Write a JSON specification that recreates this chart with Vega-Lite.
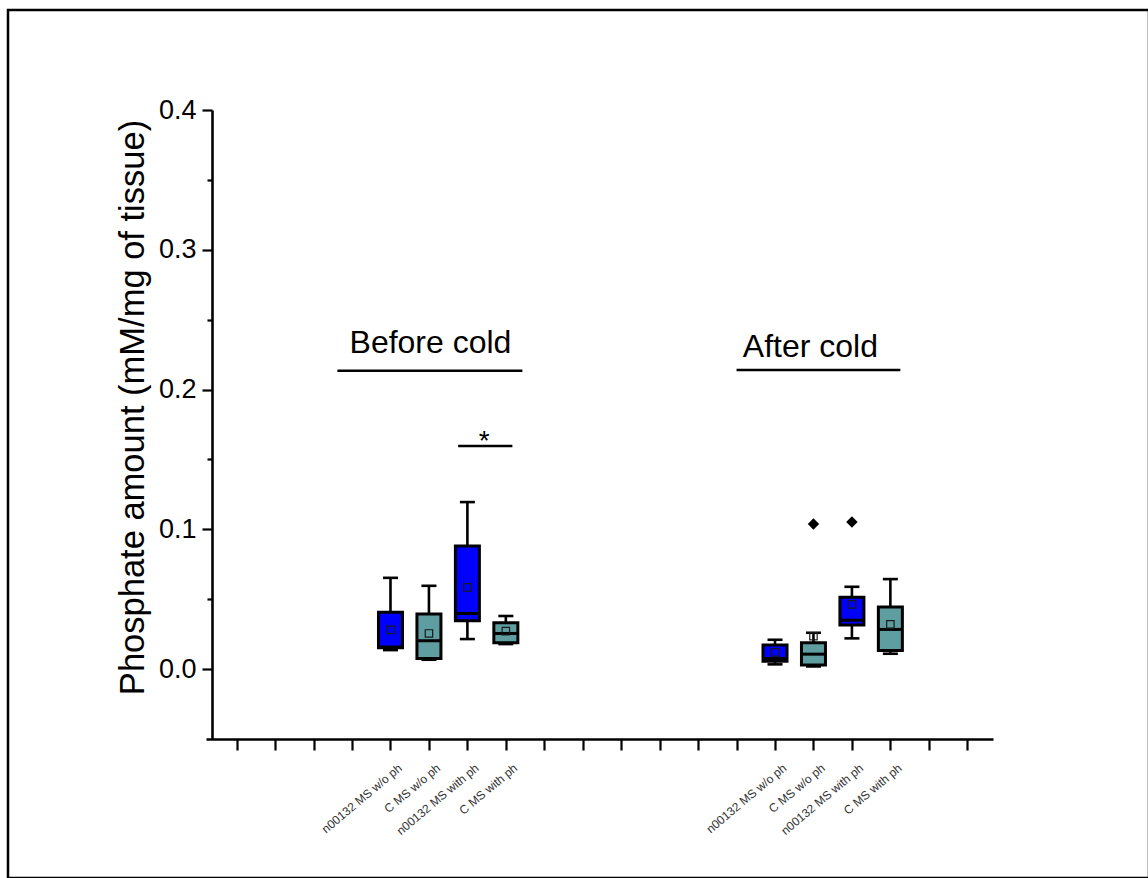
{
  "$schema": "https://vega.github.io/schema/vega-lite/v6.json",
  "width": 1141,
  "height": 868,
  "autosize": {"type": "none"},
  "padding": {"left": 8, "top": 10, "right": 0, "bottom": 0},
  "background": "white",
  "config": {
    "font": "Liberation Sans",
    "view": {"stroke": "black", "strokeWidth": 2.5},
    "axis": {"grid": false, "domainColor": "black", "tickColor": "black", "labelColor": "black", "titleColor": "black"}
  },
  "datasets": {
    "boxes": [
      {"pos": 5, "group": "n00132 MS w/o ph", "period": "Before cold", "type": "n00132 MS", "lower": 0.0136, "q1": 0.0153, "median": 0.0158, "q3": 0.0406, "upper": 0.0653, "mean": 0.0281},
      {"pos": 6, "group": "C MS w/o ph", "period": "Before cold", "type": "C MS", "lower": 0.0067, "q1": 0.0076, "median": 0.0203, "q3": 0.0394, "upper": 0.0596, "mean": 0.0255},
      {"pos": 7, "group": "n00132 MS with ph", "period": "Before cold", "type": "n00132 MS", "lower": 0.0215, "q1": 0.0346, "median": 0.0398, "q3": 0.088, "upper": 0.1195, "mean": 0.0585},
      {"pos": 8, "group": "C MS with ph", "period": "Before cold", "type": "C MS", "lower": 0.0179, "q1": 0.0188, "median": 0.0255, "q3": 0.0332, "upper": 0.038, "mean": 0.0272},
      {"pos": 15, "group": "n00132 MS w/o ph", "period": "After cold", "type": "n00132 MS", "lower": 0.0034, "q1": 0.0057, "median": 0.0076, "q3": 0.0172, "upper": 0.021, "mean": 0.012},
      {"pos": 16, "group": "C MS w/o ph", "period": "After cold", "type": "C MS", "lower": 0.0019, "q1": 0.0029, "median": 0.0107, "q3": 0.0188, "upper": 0.026, "mean": 0.0235},
      {"pos": 17, "group": "n00132 MS with ph", "period": "After cold", "type": "n00132 MS", "lower": 0.022, "q1": 0.0315, "median": 0.035, "q3": 0.0515, "upper": 0.0589, "mean": 0.0463},
      {"pos": 18, "group": "C MS with ph", "period": "After cold", "type": "C MS", "lower": 0.011, "q1": 0.0134, "median": 0.0284, "q3": 0.0444, "upper": 0.0644, "mean": 0.032}
    ],
    "outliers": [
      {"pos": 16, "value": 0.1038},
      {"pos": 17, "value": 0.1052}
    ],
    "lines": [
      {"label": "Before cold", "x1": 3.62, "x2": 8.43, "y": 0.2135},
      {"label": "After cold", "x1": 14.0, "x2": 18.26, "y": 0.214},
      {"label": "significance", "x1": 6.76, "x2": 8.17, "y": 0.1596}
    ],
    "texts": [
      {"text": "Before cold", "x": 6.04, "y": 0.2262, "size": 32},
      {"text": "After cold", "x": 15.92, "y": 0.2236, "size": 32},
      {"text": "*", "x": 7.44, "y": 0.1567, "size": 28}
    ]
  },
  "resolve": {"axis": {"x": "independent", "y": "independent"}},
  "layer": [
    {
      "data": {"name": "boxes"},
      "mark": {"type": "rule", "color": "black", "strokeWidth": 2.6},
      "encoding": {
        "x": {
          "field": "pos", "type": "quantitative",
          "scale": {"domain": [0.3324, 20.539], "range": [198, 985], "nice": false, "zero": false},
          "axis": {
            "orient": "bottom", "offset": -139, "title": null,
            "values": [1,2,3,4,5,6,7,8,9,10,11,12,13,14,15,16,17,18,19,20],
            "labelExpr": "datum.value == 5 || datum.value == 15 ? 'n00132 MS w/o ph' : datum.value == 6 || datum.value == 16 ? 'C  MS w/o ph' : datum.value == 7 || datum.value == 17 ? 'n00132 MS with ph' : datum.value == 8 || datum.value == 18 ? 'C  MS with ph' : ''",
            "labelAngle": -40, "labelFontSize": 12, "labelColor": "#333333", "labelPadding": 12, "labelOffset": 6,
            "labelOverlap": false, "labelBound": false, "labelFlush": false,
            "tickSize": 11, "tickWidth": 2.2, "domainWidth": 2.6
          }
        },
        "y": {
          "field": "lower", "type": "quantitative",
          "scale": {"domain": [-0.05, 0.4], "range": [729, 100], "nice": false, "zero": false},
          "axis": {
            "orient": "left", "offset": -204,
            "values": [0, 0.1, 0.2, 0.3, 0.4], "format": ".1f",
            "labelFontSize": 27, "labelPadding": 6,
            "tickSize": 10, "tickWidth": 2.2, "domainWidth": 2.6,
            "title": "Phosphate amount (mM/mg of tissue)",
            "titleFontSize": 34.5, "titleFontWeight": "normal",
            "titleAngle": -90, "titleAlign": "center", "titleBaseline": "alphabetic",
            "titleX": -69, "titleY": 397
          }
        },
        "y2": {"field": "upper"}
      }
    },
    {
      "data": {"name": "boxes"},
      "mark": {"type": "tick", "orient": "horizontal", "color": "black", "size": 15, "thickness": 2.6, "opacity": 1},
      "encoding": {
        "x": {"field": "pos", "type": "quantitative", "axis": null},
        "y": {"field": "lower", "type": "quantitative", "axis": null}
      }
    },
    {
      "data": {"name": "boxes"},
      "mark": {"type": "tick", "orient": "horizontal", "color": "black", "size": 15, "thickness": 2.6, "opacity": 1},
      "encoding": {
        "x": {"field": "pos", "type": "quantitative", "axis": null},
        "y": {"field": "upper", "type": "quantitative", "axis": null}
      }
    },
    {
      "data": {"name": "boxes"},
      "mark": {"type": "bar", "orient": "vertical", "size": 24, "stroke": "black", "strokeWidth": 3, "opacity": 1},
      "encoding": {
        "x": {"field": "pos", "type": "quantitative", "axis": null},
        "y": {"field": "q1", "type": "quantitative", "axis": null},
        "y2": {"field": "q3"},
        "color": {"field": "type", "type": "nominal", "scale": {"domain": ["n00132 MS", "C MS"], "range": ["#0000ff", "#5f9ea0"]}, "legend": null}
      }
    },
    {
      "data": {"name": "boxes"},
      "mark": {"type": "tick", "orient": "horizontal", "color": "black", "size": 25, "thickness": 3, "opacity": 1},
      "encoding": {
        "x": {"field": "pos", "type": "quantitative", "axis": null},
        "y": {"field": "median", "type": "quantitative", "axis": null}
      }
    },
    {
      "data": {"name": "boxes"},
      "mark": {"type": "point", "shape": "square", "size": 55, "filled": false, "stroke": "#1a1a1a", "strokeWidth": 1.2, "opacity": 1},
      "encoding": {
        "x": {"field": "pos", "type": "quantitative", "axis": null},
        "y": {
          "field": "mean", "type": "quantitative",
          "axis": {
            "orient": "left", "offset": -204, "title": null,
            "values": [0.05, 0.15, 0.25, 0.35], "labels": false, "domain": false,
            "tickSize": 5, "tickWidth": 2.2
          }
        }
      }
    },
    {
      "data": {"name": "outliers"},
      "mark": {"type": "point", "shape": "diamond", "size": 130, "filled": true, "color": "black", "opacity": 1},
      "encoding": {
        "x": {"field": "pos", "type": "quantitative", "axis": null},
        "y": {"field": "value", "type": "quantitative", "axis": null}
      }
    },
    {
      "data": {"name": "lines"},
      "mark": {"type": "rule", "color": "black", "strokeWidth": 2.6},
      "encoding": {
        "x": {"field": "x1", "type": "quantitative", "axis": null},
        "x2": {"field": "x2"},
        "y": {"field": "y", "type": "quantitative", "axis": null}
      }
    },
    {
      "data": {"name": "texts"},
      "mark": {"type": "text", "align": "center", "baseline": "alphabetic", "color": "black"},
      "encoding": {
        "x": {"field": "x", "type": "quantitative", "axis": null},
        "y": {"field": "y", "type": "quantitative", "axis": null},
        "text": {"field": "text"},
        "size": {"field": "size", "type": "quantitative", "scale": null}
      }
    }
  ]
}
